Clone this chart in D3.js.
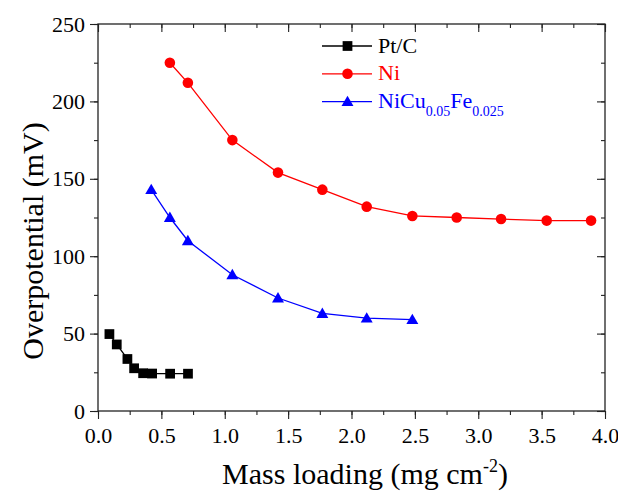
<!DOCTYPE html>
<html><head><meta charset="utf-8">
<script src="https://cdn.jsdelivr.net/npm/d3@7"></script>
<style>body{margin:0;background:#fff}svg{display:block}text{font-family:"Liberation Serif","Times New Roman",serif}</style>
</head><body>
<svg id="c" width="618" height="495"></svg>
<script>
const ptcX = [0.09, 0.148, 0.232, 0.285, 0.356, 0.427, 0.569, 0.71];
const ptcY = [49.7, 43, 33.6, 27.6, 24.4, 24.2, 24.1, 24.1];
const niX = [0.567, 0.709, 1.06, 1.42, 1.77, 2.12, 2.48, 2.83, 3.18, 3.54, 3.89];
const niY = [225, 212, 175, 154, 143, 132, 126, 125, 124, 123, 123];
const nicuX = [0.42, 0.567, 0.709, 1.06, 1.42, 1.77, 2.12, 2.48];
const nicuY = [143, 125, 110, 88, 73, 63, 60, 59];
const xTicks = [0.0, 0.5, 1.0, 1.5, 2.0, 2.5, 3.0, 3.5, 4.0];
const yTicks = [0, 50, 100, 150, 200, 250];

const svg = d3.select("#c");
const L = 98, R = 605, T = 24, B = 411;
const x = d3.scaleLinear().domain([0, 4]).range([L, R]);
const y = d3.scaleLinear().domain([0, 250]).range([B, T]);
const axisColor = "#222";

svg.append("rect").attr("x", L).attr("y", T).attr("width", R - L).attr("height", B - T)
  .attr("fill", "none").attr("stroke", axisColor).attr("stroke-width", 1.3);

const minorX = d3.range(0, 4.001, 0.25);
const minorY = d3.range(0, 250.1, 25);
function ax(axisFn, scale, vals, size, pad, fmt, tr) {
  const g = svg.append("g").attr("transform", tr)
    .call(axisFn(scale).tickValues(vals).tickSize(size).tickPadding(pad).tickFormat(fmt));
  g.select(".domain").remove();
  g.selectAll("text").attr("font-size", 22).attr("fill", "#000").attr("font-family", "Liberation Serif");
  return g;
}
ax(d3.axisBottom, x, minorX, 4, 0, "", `translate(0,${B})`);
ax(d3.axisBottom, x, xTicks, 8, 8, d3.format(".1f"), `translate(0,${B})`);
ax(d3.axisBottom, x, minorX, 4, 0, "", `translate(0,${T})`);
ax(d3.axisBottom, x, xTicks, 8, 0, "", `translate(0,${T})`);
ax(d3.axisLeft, y, minorY, 4, 0, "", `translate(${L},0)`);
ax(d3.axisLeft, y, yTicks, 8, 5, null, `translate(${L},0)`);
ax(d3.axisLeft, y, minorY, 4, 0, "", `translate(${R},0)`);
ax(d3.axisLeft, y, yTicks, 8, 0, "", `translate(${R},0)`);
svg.selectAll(".tick line").attr("stroke", axisColor).attr("stroke-width", 1.1);

// titles
svg.append("text").attr("x", 365).attr("y", 484).attr("text-anchor", "middle")
  .attr("font-size", 30).attr("fill", "#000")
  .html('Mass loading (mg cm<tspan dy="-12" font-size="18">-2</tspan><tspan dy="12">)</tspan>');
svg.append("text").attr("transform", "translate(43,241) rotate(-90)").attr("text-anchor", "middle")
  .attr("font-size", 30).attr("fill", "#000").text("Overpotential (mV)");

const series = [
  {xs: ptcX, ys: ptcY, color: "#000", shape: d3.symbolSquare, size: 95},
  {xs: niX, ys: niY, color: "#ff0000", shape: d3.symbolCircle, size: 88},
  {xs: nicuX, ys: nicuY, color: "#0000ff", shape: d3.symbolTriangle, size: 62}
];
const line = d3.line().x(d => x(d[0])).y(d => y(d[1]));
series.forEach(s => {
  const pts = s.xs.map((v, i) => [v, s.ys[i]]);
  svg.append("path").datum(pts).attr("d", line).attr("fill", "none")
    .attr("stroke", s.color).attr("stroke-width", 1.3);
  svg.selectAll(null).data(pts).enter().append("path")
    .attr("d", d3.symbol().type(s.shape).size(s.size))
    .attr("transform", d => `translate(${x(d[0])},${y(d[1]) + (s.shape === d3.symbolTriangle ? 1 : 0)})`)
    .attr("fill", s.color);
});

// legend
const leg = [
  {label: "Pt/C", color: "#000", shape: d3.symbolSquare, size: 95, y: 46},
  {label: "Ni", color: "#ff0000", shape: d3.symbolCircle, size: 88, y: 73.8},
  {label: "NiCu", color: "#0000ff", shape: d3.symbolTriangle, size: 62, y: 101.6}
];
leg.forEach(l => {
  svg.append("line").attr("x1", 322).attr("x2", 372).attr("y1", l.y).attr("y2", l.y)
    .attr("stroke", l.color).attr("stroke-width", 1.3);
  svg.append("path").attr("d", d3.symbol().type(l.shape).size(l.size)())
    .attr("transform", `translate(347.5,${l.y + (l.shape === d3.symbolTriangle ? 1 : 0)})`).attr("fill", l.color);
  const t = svg.append("text").attr("x", 378).attr("y", l.y + 6.6).attr("font-size", 22).attr("fill", l.color);
  if (l.label === "NiCu") {
    t.html('NiCu<tspan dy="8" font-size="14">0.05</tspan><tspan dy="-8">Fe</tspan><tspan dy="8" font-size="14">0.025</tspan>');
  } else t.text(l.label);
});
</script>
</body></html>
